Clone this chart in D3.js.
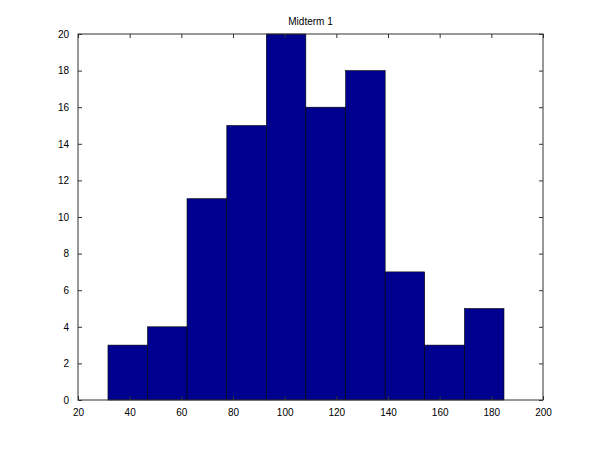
<!DOCTYPE html>
<html><head><meta charset="utf-8">
<script src="https://cdn.jsdelivr.net/npm/d3@7"></script>
<style>body{margin:0;background:#fff}svg{display:block}text{font-family:"Liberation Sans",Arial,Helvetica,sans-serif}</style>
</head><body>
<script>
const title = "Midterm 1";
const binEdges = [31.6, 46.9, 62.2, 77.6, 92.9, 108.2, 123.6, 138.9, 154.2, 169.6, 184.9];
const counts = [3, 4, 11, 15, 20, 16, 18, 7, 3, 5];
const xTicks = [20, 40, 60, 80, 100, 120, 140, 160, 180, 200];
const yTicks = [0, 2, 4, 6, 8, 10, 12, 14, 16, 18, 20];

const W = 600, H = 450;
const m = {left: 78, right: 57, top: 34, bottom: 50};
const svg = d3.select("body").append("svg").attr("width", W).attr("height", H);
const x = d3.scaleLinear().domain([20, 200]).range([m.left, W - m.right]);
const y = d3.scaleLinear().domain([0, 20]).range([H - m.bottom, m.top]);

const bins = counts.map((c, i) => ({x0: binEdges[i], x1: binEdges[i+1], c}));
svg.append("g").selectAll("rect").data(bins).join("rect")
  .attr("x", d => x(d.x0)).attr("y", d => y(d.c))
  .attr("width", d => x(d.x1) - x(d.x0)).attr("height", d => y(0) - y(d.c))
  .attr("fill", "#00008f").attr("stroke", "#000").attr("stroke-width", 0.6);

const axisColor = "#333";
function style(g){ g.select(".domain").remove(); g.selectAll("line").attr("stroke", axisColor); g.selectAll("text").attr("font-size", 10).attr("fill", "#000"); }
svg.append("g").attr("transform", `translate(0,${H - m.bottom})`)
  .call(d3.axisBottom(x).tickValues(xTicks).tickSizeInner(-4).tickSizeOuter(0).tickPadding(9))
  .call(style);
svg.append("g").attr("transform", `translate(0,${m.top})`)
  .call(d3.axisTop(x).tickValues(xTicks).tickSizeInner(-4).tickSizeOuter(0).tickFormat(""))
  .call(style);
svg.append("g").attr("transform", `translate(${m.left},0)`)
  .call(d3.axisLeft(y).tickValues(yTicks).tickSizeInner(-4).tickSizeOuter(0).tickPadding(9))
  .call(style);
svg.append("g").attr("transform", `translate(${W - m.right},0)`)
  .call(d3.axisRight(y).tickValues(yTicks).tickSizeInner(-4).tickSizeOuter(0).tickFormat(""))
  .call(style);
svg.append("rect").attr("x", m.left).attr("y", m.top)
  .attr("width", W - m.left - m.right).attr("height", H - m.top - m.bottom)
  .attr("fill", "none").attr("stroke", axisColor).attr("stroke-width", 1);

svg.append("text").attr("x", (m.left + W - m.right) / 2).attr("y", m.top - 9)
  .attr("text-anchor", "middle").attr("font-size", 10).text(title);
</script>
</body></html>
